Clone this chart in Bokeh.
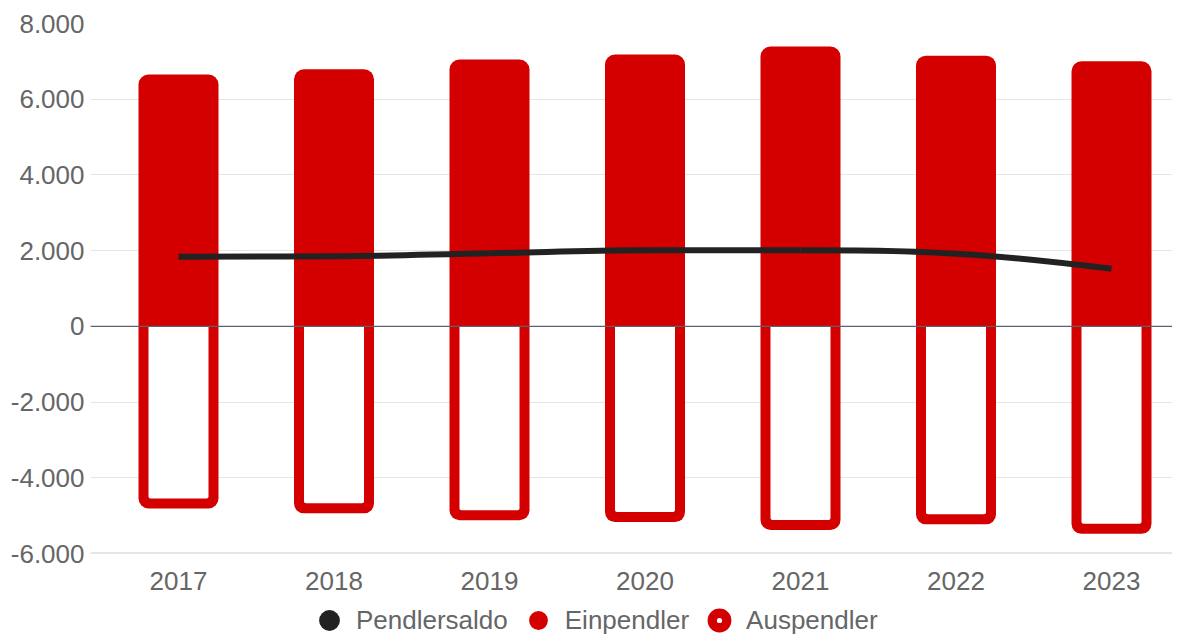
import numpy as np
from bokeh.plotting import figure
from bokeh.layouts import column
from bokeh.models import (ColumnDataSource, Range1d, FixedTicker, CustomJSTickFormatter,
                          Span, Legend, LegendItem)
from bokeh.embed import file_html
from bokeh.resources import INLINE

# ---- data ----
years = [2017, 2018, 2019, 2020, 2021, 2022, 2023]
einpendler = [6650, 6790, 7050, 7180, 7390, 7150, 7000]
auspendler = [-4810, -4940, -5120, -5170, -5380, -5230, -5480]
pendlersaldo = [1840, 1850, 1930, 2010, 2010, 1920, 1520]
y_ticks = [-6000, -4000, -2000, 0, 2000, 4000, 6000, 8000]

RED = "#d40000"
FONT = "Liberation Sans"

W, H = 1172, 600
LH = 35
BL, BR, BT, BB = 90, 0, 23, 47
frame_w = W - BL - BR
frame_h = H - BT - BB

cat_px = 155.5
x_start = years[0] - (178 - 90) / cat_px
x_end = x_start + frame_w / cat_px
y_start, y_end = -6000, 8000
px_x = frame_w / (x_end - x_start)
px_y = frame_h / (y_end - y_start)

bar_w = 80 / px_x
stroke = 10

p = figure(width=W, height=H, output_backend="svg", toolbar_location=None,
           x_range=Range1d(x_start, x_end), y_range=Range1d(y_start, y_end),
           min_border_left=BL, min_border_right=BR, min_border_top=BT, min_border_bottom=BB)
p.outline_line_color = None
p.background_fill_color = "white"
p.border_fill_color = "white"

# axes
p.xaxis.ticker = FixedTicker(ticks=years)
p.xaxis.axis_line_color = None
p.xaxis.major_tick_line_color = None
p.xaxis.minor_tick_line_color = None
p.xaxis.major_label_text_font = FONT
p.xaxis.major_label_text_font_size = "26px"
p.xaxis.major_label_text_color = "#666666"
p.xaxis.major_label_standoff = 12

p.yaxis.ticker = FixedTicker(ticks=y_ticks)
p.yaxis.axis_line_color = None
p.yaxis.major_tick_line_color = None
p.yaxis.minor_tick_line_color = None
p.yaxis.major_label_text_font = FONT
p.yaxis.major_label_text_font_size = "26px"
p.yaxis.major_label_text_color = "#666666"
p.yaxis.major_label_standoff = 0
p.yaxis.formatter = CustomJSTickFormatter(code="""
const s = Math.abs(tick).toFixed(0).replace(/\\B(?=(\\d{3})+(?!\\d))/g, ".");
return (tick < 0 ? "-" : "") + s;
""")

p.xgrid.grid_line_color = None
p.ygrid.ticker = FixedTicker(ticks=y_ticks)
p.ygrid.grid_line_color = "#e6e6e6"
p.ygrid.grid_line_width = 1

# bottom axis line
p.add_layout(Span(location=y_start, dimension="width", line_color="#cccccc", line_width=2, level="underlay"))

# Einpendler bars
src = ColumnDataSource(dict(x=years, ein=einpendler, aus=auspendler,
                            aus_inner=[a + stroke / px_y for a in auspendler]))
p.vbar(x="x", top="ein", bottom=0, width=bar_w, source=src, fill_color=RED,
       line_color=None, border_radius=(10, 10, 0, 0))

# Auspendler bars (outlined)
p.vbar(x="x", top=0, bottom="aus", width=bar_w, source=src, fill_color=RED,
       line_color=None, border_radius=(0, 0, 10, 10))
p.vbar(x="x", top=0, bottom="aus_inner", width=bar_w - 2 * stroke / px_x, source=src,
       fill_color="white", line_color=None, border_radius=(0, 0, 2, 2))

# zero line
p.add_layout(Span(location=0, dimension="width", line_color="#5a6272", line_width=1.2))

# Pendlersaldo spline (Highcharts-style smoothing)
xs = np.array(years, dtype=float)
ys = np.array(pendlersaldo, dtype=float)
n = len(xs)
lcx = xs.copy(); lcy = ys.copy(); rcx = xs.copy(); rcy = ys.copy()
sm, den = 1.5, 2.5
for i in range(1, n - 1):
    lx = (sm * xs[i] + xs[i - 1]) / den
    ly = (sm * ys[i] + ys[i - 1]) / den
    rx = (sm * xs[i] + xs[i + 1]) / den
    ry = (sm * ys[i] + ys[i + 1]) / den
    corr = ((ry - ly) * (rx - xs[i])) / (rx - lx) + ys[i] - ry
    ly += corr; ry += corr
    if ly > ys[i - 1] and ly > ys[i]:
        ly = max(ys[i - 1], ys[i]); ry = 2 * ys[i] - ly
    elif ly < ys[i - 1] and ly < ys[i]:
        ly = min(ys[i - 1], ys[i]); ry = 2 * ys[i] - ly
    if ry > ys[i + 1] and ry > ys[i]:
        ry = max(ys[i + 1], ys[i]); ly = 2 * ys[i] - ry
    elif ry < ys[i + 1] and ry < ys[i]:
        ry = min(ys[i + 1], ys[i]); ly = 2 * ys[i] - ry
    lcx[i], lcy[i], rcx[i], rcy[i] = lx, ly, rx, ry

bez = ColumnDataSource(dict(x0=xs[:-1], y0=ys[:-1], x1=xs[1:], y1=ys[1:],
                            cx0=rcx[:-1], cy0=rcy[:-1], cx1=lcx[1:], cy1=lcy[1:]))
p.bezier(x0="x0", y0="y0", x1="x1", y1="y1", cx0="cx0", cy0="cy0", cx1="cx1", cy1="cy1",
         source=bez, line_color="#222222", line_width=6)

# ---- legend figure ----
lf = figure(width=W, height=LH, output_backend="svg", toolbar_location=None,
            x_range=Range1d(0, 1), y_range=Range1d(0, 1),
            min_border_left=0, min_border_right=0, min_border_top=0, min_border_bottom=0)
lf.axis.visible = False
lf.grid.visible = False
lf.outline_line_color = None

nan_src = ColumnDataSource(dict(x=[0.5], y=[float("nan")]))
r_saldo = lf.scatter(x="x", y="y", source=nan_src, marker="circle",
                     fill_color="#222222", line_color=None)
r_ein = lf.scatter(x="x", y="y", source=nan_src, marker="circle",
                   fill_color=RED, line_color="white", line_width=2)
r_aus1 = lf.scatter(x="x", y="y", source=nan_src, marker="circle",
                    fill_color=RED, line_color=RED, line_width=3)
r_aus2 = lf.scatter(x="x", y="y", source=nan_src, marker="dot",
                    line_color="white", fill_color="white", line_width=3)

legend = Legend(items=[LegendItem(label="Pendlersaldo", renderers=[r_saldo]),
                       LegendItem(label="Einpendler", renderers=[r_ein]),
                       LegendItem(label="Auspendler", renderers=[r_aus1, r_aus2])],
                orientation="horizontal", location=(213, -11),
                label_text_font=FONT, label_text_font_size="26px", label_text_color="#666666",
                glyph_width=52, glyph_height=52, spacing=4, padding=0, margin=0,
                label_standoff=1, label_height=52, border_line_color=None,
                background_fill_alpha=0)
lf.add_layout(legend, "center")

layout = column(p, lf, spacing=0)
open("out.html", "w").write(file_html(layout, INLINE))
